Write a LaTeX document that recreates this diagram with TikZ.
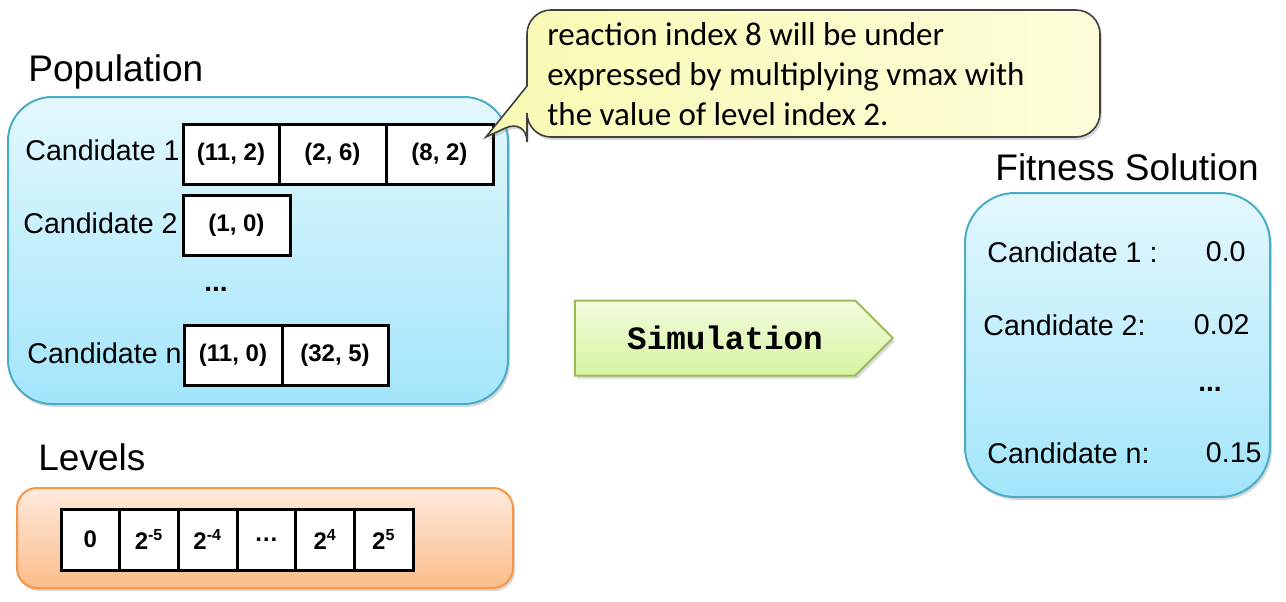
\documentclass[tikz,border=0pt]{standalone}
\usepackage{fontspec}
\setmainfont{Liberation Sans}
\setmonofont{Liberation Mono}
\newfontfamily\notefont{Carlito}
\usetikzlibrary{positioning,shapes.symbols,shadows}

\definecolor{popTop}{HTML}{E3F8FD}
\definecolor{popBot}{HTML}{A3E5FB}
\definecolor{popLine}{HTML}{4BACC6}
\definecolor{lvlTop}{HTML}{FEEADC}
\definecolor{lvlBot}{HTML}{FBBD8A}
\definecolor{lvlLine}{HTML}{F79646}
\definecolor{simTop}{HTML}{F3FCDE}
\definecolor{simBot}{HTML}{D6F5A0}
\definecolor{simLine}{HTML}{9BBB59}
\definecolor{noteLeft}{HTML}{F9FAB4}
\definecolor{noteRight}{HTML}{FDFDDA}

\newcommand{\fsz}[1]{\fontsize{#1}{1.2\dimexpr#1pt\relax}\selectfont}

\begin{document}
\begin{tikzpicture}[x=0.5pt, y=-0.5pt,
  softshadow/.style={drop shadow={opacity=0.3, shadow xshift=1pt, shadow yshift=-1.5pt}},
  bluebox/.style={draw=popLine, line width=1pt, top color=popTop, bottom color=popBot, softshadow},
  cell/.style={draw, line width=1.5pt, fill=white, outer sep=0pt, inner sep=0pt,
    minimum height=30pt, font=\bfseries\fsz{12}},
  heading/.style={font=\fsz{18.5}, inner sep=0pt, anchor=base west},
  candtext/.style={font=\fsz{14.3}, inner sep=0pt}]

  \useasboundingbox (0,0) rectangle (1286,601);

  % population
  \node[heading] (pophead) at (28,81) {Population};
  \node[bluebox, rounded corners=22pt, minimum width=250pt, minimum height=153.5pt]
    (popbox) at (258,250.5) {};
  \node[cell, minimum width=48pt, anchor=north west] (c11) at (183,124) {(11, 2)};
  \node[cell, minimum width=53.5pt, right=0pt of c11] (c12) {(2, 6)};
  \node[cell, minimum width=53.5pt, right=0pt of c12] (c13) {(8, 2)};
  \node[cell, minimum width=53.5pt, anchor=north west] (c21) at (183,195) {(1, 0)};
  \node[cell, minimum width=49pt, anchor=north west] (cn1) at (184,325) {(11, 0)};
  \node[cell, minimum width=53pt, right=0pt of cn1] (cn2) {(32, 5)};
  \node[candtext, left=1.5pt of c11, yshift=2pt] (cand1) {Candidate 1};
  \node[candtext, left=2.5pt of c21, yshift=1pt] (cand2) {Candidate 2};
  \node[candtext, left=1pt of cn1, yshift=1pt] (candn) {Candidate n};
  \node[font=\bfseries\fsz{14}, inner sep=0pt] (popdots) at (216,289) {...};

  % levels
  \node[heading] (lvlhead) at (38,470) {Levels};
  \node[draw=lvlLine, line width=1pt, top color=lvlTop, bottom color=lvlBot, softshadow,
    rounded corners=10pt, minimum width=248pt, minimum height=50pt] (lvlbox) at (265,538) {};
  \foreach \v [count=\i] in {{0}, {2\textsuperscript{-5}}, {2\textsuperscript{-4}}, {\ldots}, {2\textsuperscript{4}}, {2\textsuperscript{5}}}
    \node[cell, minimum width=29.35pt, minimum height=30.5pt, anchor=north west]
      (lv\i) at ({61+(\i-1)*58.7},509) {\v};

  % note
  \coordinate (notetip) at (486,137);
  \draw[draw=black!75, line width=0.8pt, left color=noteLeft, right color=noteRight, softshadow]
    (527,86) [rounded corners=12pt] |- (1100,10) |- (527,137) -- (527,118)
    [sharp corners] -- (notetip) -- cycle;
  \node[font=\notefont\fontsize{16.5}{20}\selectfont, align=left, inner sep=0pt, anchor=north west]
    (note) at (547,22) {reaction index 8 will be under\\expressed by multiplying vmax with\\the value of level index 2.};

  % simulation
  \node[signal, signal to=east, draw=simLine, line width=1pt, top color=simTop, bottom color=simBot,
    softshadow, minimum width=159pt, minimum height=37.5pt, font=\ttfamily\bfseries\fsz{16.3}]
    (sim) at (715,338) {\hspace*{10pt}Simulation};

  % fitness
  \node[heading] (fithead) at (995,180) {Fitness Solution};
  \node[bluebox, rounded corners=25pt, minimum width=152.5pt, minimum height=152pt]
    (fitbox) at (1117.5,345) {};
  \node[candtext, anchor=west] (fit1) at (987,252) {Candidate 1 :};
  \node[candtext, anchor=east] (val1) at (1246,252) {0.0};
  \node[candtext, anchor=west] (fit2) at (983,325) {Candidate 2:};
  \node[candtext, anchor=east] (val2) at (1250,325) {0.02};
  \node[font=\bfseries\fsz{14}, inner sep=0pt] (fitdots) at (1210,389) {...};
  \node[candtext, anchor=west] (fitn) at (987,453) {Candidate n:};
  \node[candtext, anchor=east] (valn) at (1262,453) {0.15};
\end{tikzpicture}
\end{document}
